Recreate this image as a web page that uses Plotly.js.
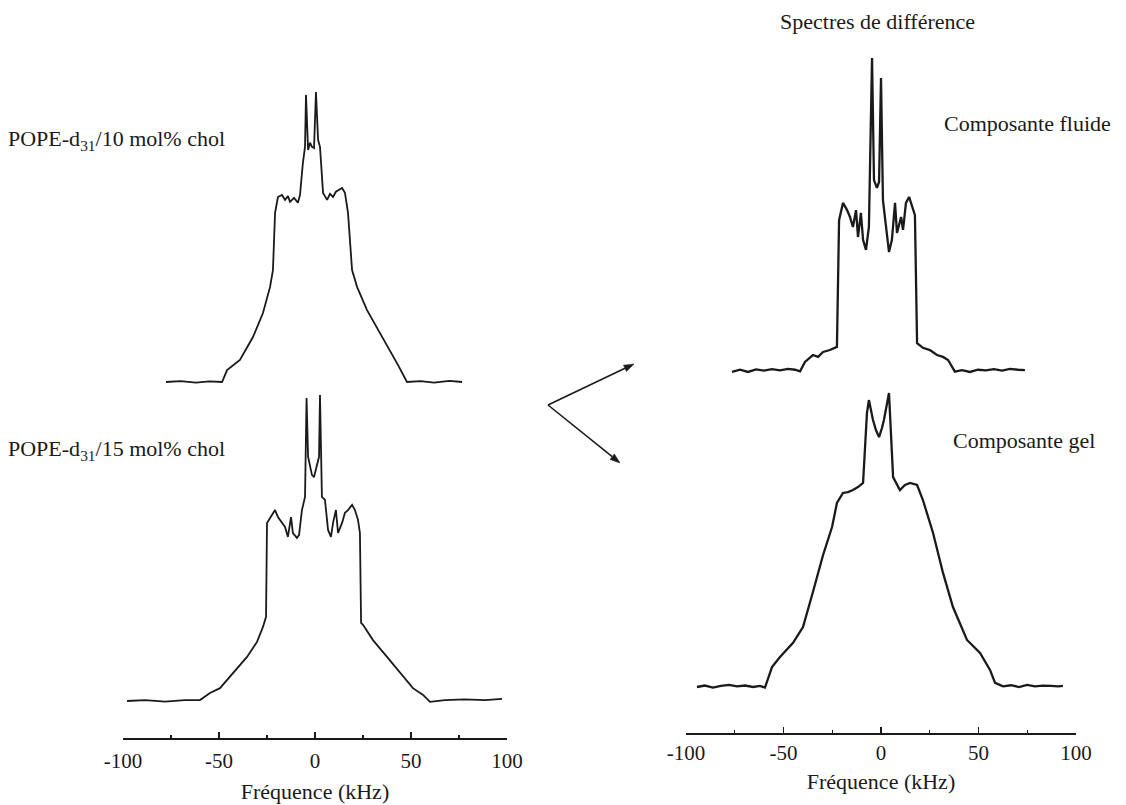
<!DOCTYPE html>
<html>
<head>
<meta charset="utf-8">
<script src="https://cdn.plot.ly/plotly-3.0.1.min.js"></script>
<style>html,body{margin:0;padding:0;background:#fff;}#chart{width:1126px;height:805px;}</style>
</head>
<body>
<div id="chart"></div>
<script>
// ---- Data (frequency in kHz, intensity in % of tallest peak) ----
const tickValues = [-100, -50, 0, 50, 100];
const tickLabels = ["-100", "-50", "0", "50", "100"];
const minorTickValues = [-75, -25, 25, 75];

// POPE-d31 / 10 mol% chol
const kHz10 = [-77.6,-70,-62,-55,-48.4,-45.8,-39.1,-32.3,-27.1,-23.4,-21.9,-20.8,-19.3,-17.2,-15.6,-14.1,-13.0,-10.9,-8.9,-7.8,-6.3,-5.2,-4.7,-3.6,-2.6,-1.6,-0.5,0.5,1.6,2.6,4.2,6.3,7.8,9.4,10.9,12.5,14.1,15.6,17.2,19.3,21.9,27.1,33.9,40.6,43.2,47.9,55,62,70,76.6];
const int10 = [0,0.3,-0.2,0.2,0,4.1,7.6,15.5,23.8,32.8,38.6,58.3,63.8,64.5,62.8,64.1,62.1,63.5,61.8,64.5,75.6,81.1,99.0,80.0,82.5,81.1,80.7,100,83.5,81.1,65.2,62.8,64.9,63.8,65.6,66.2,66.9,65.2,58.3,38.6,32.8,24.8,16.9,8.6,5.9,0,0.3,-0.2,0.4,0];

// POPE-d31 / 15 mol% chol
const kHz15 = [-97.9,-88.5,-78.1,-67.7,-59.9,-54.7,-49.5,-42.7,-35.4,-30.2,-27.1,-25.5,-25.0,-23.4,-20.8,-19.3,-17.2,-15.6,-14.1,-12.5,-11.5,-9.4,-8.3,-6.8,-5.2,-4.4,-3.6,-1.6,-0.5,1.0,2.1,2.6,3.6,5.2,6.8,8.3,9.4,10.9,12.0,14.1,15.6,17.2,19.3,20.8,22.4,23.4,24.0,25.0,30.2,37.5,44.3,51.0,56.3,59.9,67.7,78.1,88.5,97.4];
const int15 = [0,0.3,-0.2,0.3,0.3,2.6,4.2,9.2,14.4,19.3,24.2,27.5,58.2,59.8,62.4,60.1,58.2,56.9,53.6,60.1,54.9,53.3,54.3,62.4,66.7,99.0,79.8,73.9,73.2,76.5,79.8,100,66.7,65.7,55.9,53.6,58.2,62.4,54.9,58.2,61.5,62.4,64.1,62.4,59.2,54.9,25.5,24.9,19.9,14.4,9.2,4.2,2.0,-0.3,0.3,0.5,0.3,0.7];

// Difference spectrum: fluid component
const kHzFluide = [-76.4,-72.3,-68.2,-64.1,-60.0,-55.9,-51.8,-47.7,-44.1,-41.5,-39.0,-34.9,-32.3,-29.7,-26.2,-22.6,-21.5,-19.5,-17.4,-15.9,-14.4,-12.8,-11.8,-10.3,-9.2,-7.7,-6.2,-5.4,-4.6,-3.6,-2.1,-1.0,0.0,1.0,3.1,4.1,5.6,7.2,8.2,10.3,11.3,12.8,14.4,16.4,17.4,18.5,21.5,25.1,28.7,31.8,34.4,37.9,41.5,45.6,49.7,53.8,57.9,62.1,66.2,70.3,73.8];
const intFluide = [-0.3,0.4,-0.3,0.5,0.1,0.6,0.2,0.7,0.4,-0.1,2.9,5.1,4.5,6.1,6.7,7.7,48.2,53.7,51.4,49.2,46.0,51.4,42.8,50.5,41.9,38.7,46.0,70.6,100,61.0,58.5,60.4,93.6,54.6,41.9,38.0,41.9,53.7,44.1,49.2,45.1,53.7,55.6,51.4,49.8,8.9,7.4,6.7,5.1,4.5,3.5,-0.2,0.3,-0.3,0.4,0.2,0.6,0.1,0.7,0.4,0.3];

// Difference spectrum: gel component
const kHzGel = [-94.4,-90.3,-86.2,-82.1,-77.9,-73.8,-69.7,-65.6,-62.1,-59.5,-55.9,-51.8,-45.1,-40.0,-34.9,-29.7,-25.1,-22.6,-19.5,-16.9,-14.4,-11.8,-9.2,-7.2,-6.2,-4.1,-2.6,-1.0,0.5,1.5,4.1,6.2,9.7,12.3,14.9,18.5,21.5,26.7,31.8,36.9,44.1,50.8,55.9,58.5,62.6,66.7,70.8,74.9,79.0,83.1,87.2,90.8,93.3];
const intGel = [0,0.5,-0.2,0.4,0.7,0.2,0.5,0,0.4,-0.2,6.8,10.2,15.0,20.4,32.3,44.9,54.4,62.6,66.0,66.3,67.0,68.0,69.4,93.2,97.6,90.8,87.4,85.0,88.1,90.8,100,71.4,67.0,68.7,69.4,68.7,63.6,52.4,38.8,27.2,16.0,11.6,5.8,1.4,0.2,0.6,0,0.7,0.2,0.5,0.4,0.2,0.4];

const labels = {
  title: "Spectres de différence",
  p10: "POPE-d<sub>31</sub>/10 mol% chol",
  p15: "POPE-d<sub>31</sub>/15 mol% chol",
  fluide: "Composante fluide",
  gel: "Composante gel",
  xTitle: "Fréquence (kHz)"
};

// ---- Layout helpers ----
const W = 1126, H = 805;
const px = p => p / W;
const py = p => 1 - p / H;
function yPanel(top, bottom, basePx, peakPx) {
  const s = (basePx - peakPx) / 100;
  return { domain: [py(bottom), py(top)], range: [-(bottom - basePx) / s, (basePx - top) / s] };
}
const serif = "Liberation Serif, Times New Roman, serif";
const ink = "#1a1a1a";

const leftDom = [px(123), px(507)];
const rightDom = [px(686), px(1076)];

function visibleX(domain, anchor, labelGap, titleGap) {
  return {
    domain: domain, range: [-100, 100], anchor: anchor,
    tickmode: "array", tickvals: tickValues, ticktext: tickLabels,
    ticks: "inside", ticklen: 6, tickwidth: 1.4, tickcolor: ink,
    ticklabelstandoff: labelGap,
    showline: true, linewidth: 1.6, linecolor: ink,
    showgrid: false, zeroline: false, fixedrange: true,
    minor: { tickmode: "array", tickvals: minorTickValues, ticks: "inside", ticklen: 3, tickwidth: 1.2, tickcolor: ink, showgrid: false },
    tickfont: { family: serif, size: 21, color: ink },
    title: { text: labels.xTitle, font: { family: serif, size: 22, color: ink }, standoff: titleGap }
  };
}
function hiddenX(domain, anchor) {
  return { domain: domain, range: [-100, 100], anchor: anchor, visible: false, fixedrange: true };
}
function hiddenY(p, anchor) {
  return { domain: p.domain, range: p.range, anchor: anchor, visible: false, fixedrange: true };
}

const pLT = yPanel(45, 400, 382, 92);
const pLB = yPanel(385, 738, 701, 395);
const pRT = yPanel(35, 395, 371, 58);
const pRB = yPanel(380, 733, 687, 393);

const traces = [
  { x: kHz10, y: int10, xaxis: "x", yaxis: "y", type: "scatter", mode: "lines", line: { color: ink, width: 1.8 }, name: "10 mol% chol" },
  { x: kHz15, y: int15, xaxis: "x2", yaxis: "y2", type: "scatter", mode: "lines", line: { color: ink, width: 1.8 }, name: "15 mol% chol" },
  { x: kHzFluide, y: intFluide, xaxis: "x3", yaxis: "y3", type: "scatter", mode: "lines", line: { color: ink, width: 2.3 }, name: "Composante fluide" },
  { x: kHzGel, y: intGel, xaxis: "x4", yaxis: "y4", type: "scatter", mode: "lines", line: { color: ink, width: 2.3 }, name: "Composante gel" }
];

// Arrow shapes (two arrows from a common vertex)
function arrowShapes(x0, y0, x1, y1) {
  const dx = x1 - x0, dy = y1 - y0, L = Math.hypot(dx, dy);
  const ux = dx / L, uy = dy / L, hl = 10, hw = 3.5;
  const bx = x1 - ux * hl, by = y1 - uy * hl;
  const lx = bx - uy * hw, ly = by + ux * hw, rx = bx + uy * hw, ry = by - ux * hw;
  const f = (a, b) => px(a).toFixed(5) + "," + py(b).toFixed(5);
  return [
    { type: "line", xref: "paper", yref: "paper", x0: px(x0), y0: py(y0), x1: px(bx), y1: py(by), line: { color: ink, width: 1.6 } },
    { type: "path", xref: "paper", yref: "paper", path: "M" + f(x1, y1) + " L" + f(lx, ly) + " L" + f(rx, ry) + " Z", fillcolor: ink, line: { color: ink, width: 0.5 } }
  ];
}
const shapes = [].concat(arrowShapes(548, 405, 634, 364), arrowShapes(548, 405, 620, 463));

const annFont = { family: serif, size: 22, color: ink };
const layout = {
  width: W, height: H,
  margin: { l: 0, r: 0, t: 0, b: 0 },
  paper_bgcolor: "#ffffff", plot_bgcolor: "rgba(0,0,0,0)",
  showlegend: false,
  xaxis: hiddenX(leftDom, "y"),
  yaxis: hiddenY(pLT, "x"),
  xaxis2: visibleX(leftDom, "y2", 3, 12),
  yaxis2: hiddenY(pLB, "x2"),
  xaxis3: hiddenX(rightDom, "y3"),
  yaxis3: hiddenY(pRT, "x3"),
  xaxis4: visibleX(rightDom, "y4", 0, 10),
  yaxis4: hiddenY(pRB, "x4"),
  shapes: shapes,
  annotations: [
    { text: labels.title, xref: "paper", yref: "paper", x: px(877), y: py(22), xanchor: "center", yanchor: "middle", showarrow: false, font: annFont },
    { text: labels.p10, xref: "paper", yref: "paper", x: px(6), y: py(140), xanchor: "left", yanchor: "middle", showarrow: false, font: annFont },
    { text: labels.p15, xref: "paper", yref: "paper", x: px(6), y: py(450), xanchor: "left", yanchor: "middle", showarrow: false, font: annFont },
    { text: labels.fluide, xref: "paper", yref: "paper", x: px(942), y: py(123), xanchor: "left", yanchor: "middle", showarrow: false, font: annFont },
    { text: labels.gel, xref: "paper", yref: "paper", x: px(951), y: py(441), xanchor: "left", yanchor: "middle", showarrow: false, font: annFont }
  ]
};

Plotly.newPlot("chart", traces, layout, { staticPlot: true, displayModeBar: false });
</script>
</body>
</html>
